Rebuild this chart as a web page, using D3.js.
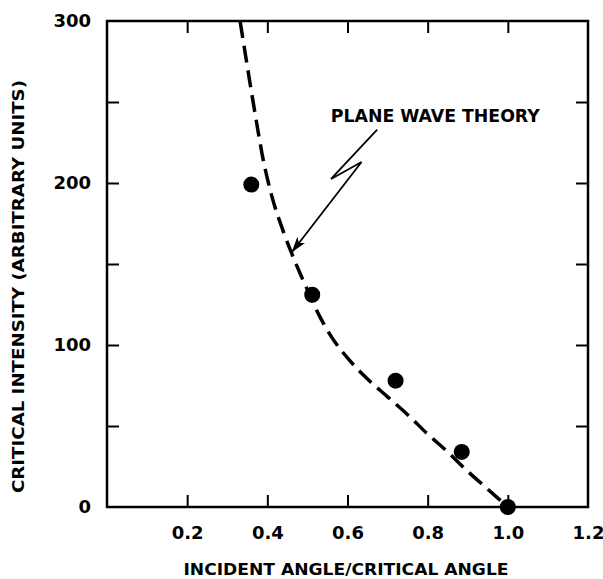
<!DOCTYPE html>
<html>
<head>
<meta charset="utf-8">
<script src="https://cdn.jsdelivr.net/npm/d3@7"></script>
<style>
  html, body { margin: 0; padding: 0; background: #fff; }
  svg { display: block; }
  text { fill: #000; }
</style>
</head>
<body>
<svg id="chart"></svg>
<script>
// measured points
const measuredX = [0.36, 0.512, 0.72, 0.885, 1.0];
const measuredY = [199, 131, 78, 34, 0];

// plane wave theory curve
const theoryX = [0.332, 0.35, 0.37, 0.39, 0.41, 0.44, 0.47, 0.50, 0.53, 0.56, 0.60, 0.65, 0.70, 0.75, 0.80, 0.85, 0.90, 0.95, 1.0];
const theoryY = [300, 272, 242, 214, 193, 170, 151, 134, 118, 105, 92, 79, 68, 57, 45, 34, 22, 11, 0];

// ticks and labels
const xTickVals = [0.2, 0.4, 0.6, 0.8, 1.0];
const xLabelVals = [0.2, 0.4, 0.6, 0.8, 1.0, 1.2];
const yTickVals = [50, 100, 150, 200, 250];
const yLabelVals = [0, 100, 200, 300];

// annotation arrow (data coords): zigzag then pointer to curve
const arrowX = [0.674, 0.559, 0.635, 0.462];
const arrowY = [233, 202.5, 213, 157.6];

const width = 603, height = 579;
const margin = { top: 21, right: 15, bottom: 72, left: 107 };
const fontFamily = '"DejaVu Sans", "Liberation Sans", sans-serif';

const svg = d3.select('#chart')
  .attr('width', width)
  .attr('height', height)
  .attr('viewBox', `0 0 ${width} ${height}`);

const x = d3.scaleLinear().domain([0, 1.2]).range([margin.left, width - margin.right]);
const y = d3.scaleLinear().domain([0, 300]).range([height - margin.bottom, margin.top]);

const tickLen = 12;

// inward ticks on all four sides
svg.append('g')
  .attr('transform', `translate(0,${y(0)})`)
  .call(d3.axisBottom(x).tickValues(xTickVals).tickSizeInner(-tickLen).tickSizeOuter(0).tickFormat(''))
  .call(g => g.select('.domain').remove());
svg.append('g')
  .attr('transform', `translate(0,${y(300)})`)
  .call(d3.axisTop(x).tickValues(xTickVals).tickSizeInner(-tickLen).tickSizeOuter(0).tickFormat(''))
  .call(g => g.select('.domain').remove());
svg.append('g')
  .attr('transform', `translate(${x(0)},0)`)
  .call(d3.axisLeft(y).tickValues(yTickVals).tickSizeInner(-tickLen).tickSizeOuter(0).tickFormat(''))
  .call(g => g.select('.domain').remove());
svg.append('g')
  .attr('transform', `translate(${x(1.2)},0)`)
  .call(d3.axisRight(y).tickValues(yTickVals).tickSizeInner(-tickLen).tickSizeOuter(0).tickFormat(''))
  .call(g => g.select('.domain').remove());

svg.selectAll('.tick line').attr('stroke', '#000').attr('stroke-width', 2);

// frame
svg.append('rect')
  .attr('x', x(0))
  .attr('y', y(300))
  .attr('width', x(1.2) - x(0))
  .attr('height', y(0) - y(300))
  .attr('fill', 'none')
  .attr('stroke', '#000')
  .attr('stroke-width', 2.5);

// tick labels
const styleLabels = g => g.selectAll('text')
  .attr('font-size', 18)
  .attr('font-weight', 'bold')
  .attr('font-family', fontFamily);

svg.append('g')
  .attr('transform', `translate(0,${y(0)})`)
  .call(d3.axisBottom(x).tickValues(xLabelVals).tickSize(0).tickPadding(19).tickFormat(d3.format('.1f')))
  .call(g => g.select('.domain').remove())
  .call(styleLabels);

svg.append('g')
  .attr('transform', `translate(${x(0)},0)`)
  .call(d3.axisLeft(y).tickValues(yLabelVals).tickSize(0).tickPadding(16).tickFormat(d3.format('d')))
  .call(g => g.select('.domain').remove())
  .call(styleLabels);

// axis titles
svg.append('text')
  .attr('x', 346)
  .attr('y', 575)
  .attr('text-anchor', 'middle')
  .attr('font-family', fontFamily)
  .attr('font-size', 16)
  .attr('font-weight', 'bold')
  .attr('textLength', 325)
  .attr('lengthAdjust', 'spacingAndGlyphs')
  .text('INCIDENT ANGLE/CRITICAL ANGLE');

svg.append('text')
  .attr('transform', 'translate(24,286.5) rotate(-90)')
  .attr('text-anchor', 'middle')
  .attr('font-family', fontFamily)
  .attr('font-size', 16)
  .attr('font-weight', 'bold')
  .attr('textLength', 413)
  .attr('lengthAdjust', 'spacingAndGlyphs')
  .text('CRITICAL INTENSITY (ARBITRARY UNITS)');

// theory curve
const theory = theoryX.map((d, i) => ({ x: d, y: theoryY[i] }));
const line = d3.line()
  .x(d => x(d.x))
  .y(d => y(d.y))
  .curve(d3.curveMonotoneX);

svg.append('path')
  .datum(theory)
  .attr('d', line)
  .attr('fill', 'none')
  .attr('stroke', '#000')
  .attr('stroke-width', 3.5)
  .attr('stroke-dasharray', '17,8');

// measured points
const measured = measuredX.map((d, i) => ({ x: d, y: measuredY[i] }));
svg.append('g')
  .selectAll('circle')
  .data(measured)
  .enter()
  .append('circle')
  .attr('cx', d => x(d.x))
  .attr('cy', d => y(d.y))
  .attr('r', 8)
  .attr('fill', '#000');

// annotation
svg.append('defs').append('marker')
  .attr('id', 'arrowhead')
  .attr('viewBox', '0 0 16 10')
  .attr('refX', 15)
  .attr('refY', 5)
  .attr('markerWidth', 16)
  .attr('markerHeight', 10)
  .attr('markerUnits', 'userSpaceOnUse')
  .attr('orient', 'auto')
  .append('path')
  .attr('d', 'M0,0 L16,5 L0,10 L4,5 Z')
  .attr('fill', '#000');

const arrow = arrowX.map((d, i) => [x(d), y(arrowY[i])]);
svg.append('path')
  .attr('d', d3.line()(arrow))
  .attr('fill', 'none')
  .attr('stroke', '#000')
  .attr('stroke-width', 1.8)
  .attr('stroke-linejoin', 'miter')
  .attr('marker-end', 'url(#arrowhead)');

svg.append('text')
  .attr('x', x(0.819))
  .attr('y', y(241.4))
  .attr('dy', '0.36em')
  .attr('text-anchor', 'middle')
  .attr('font-family', fontFamily)
  .attr('font-size', 17)
  .attr('font-weight', 'bold')
  .attr('textLength', 209)
  .attr('lengthAdjust', 'spacingAndGlyphs')
  .text('PLANE WAVE THEORY');
</script>
</body>
</html>
